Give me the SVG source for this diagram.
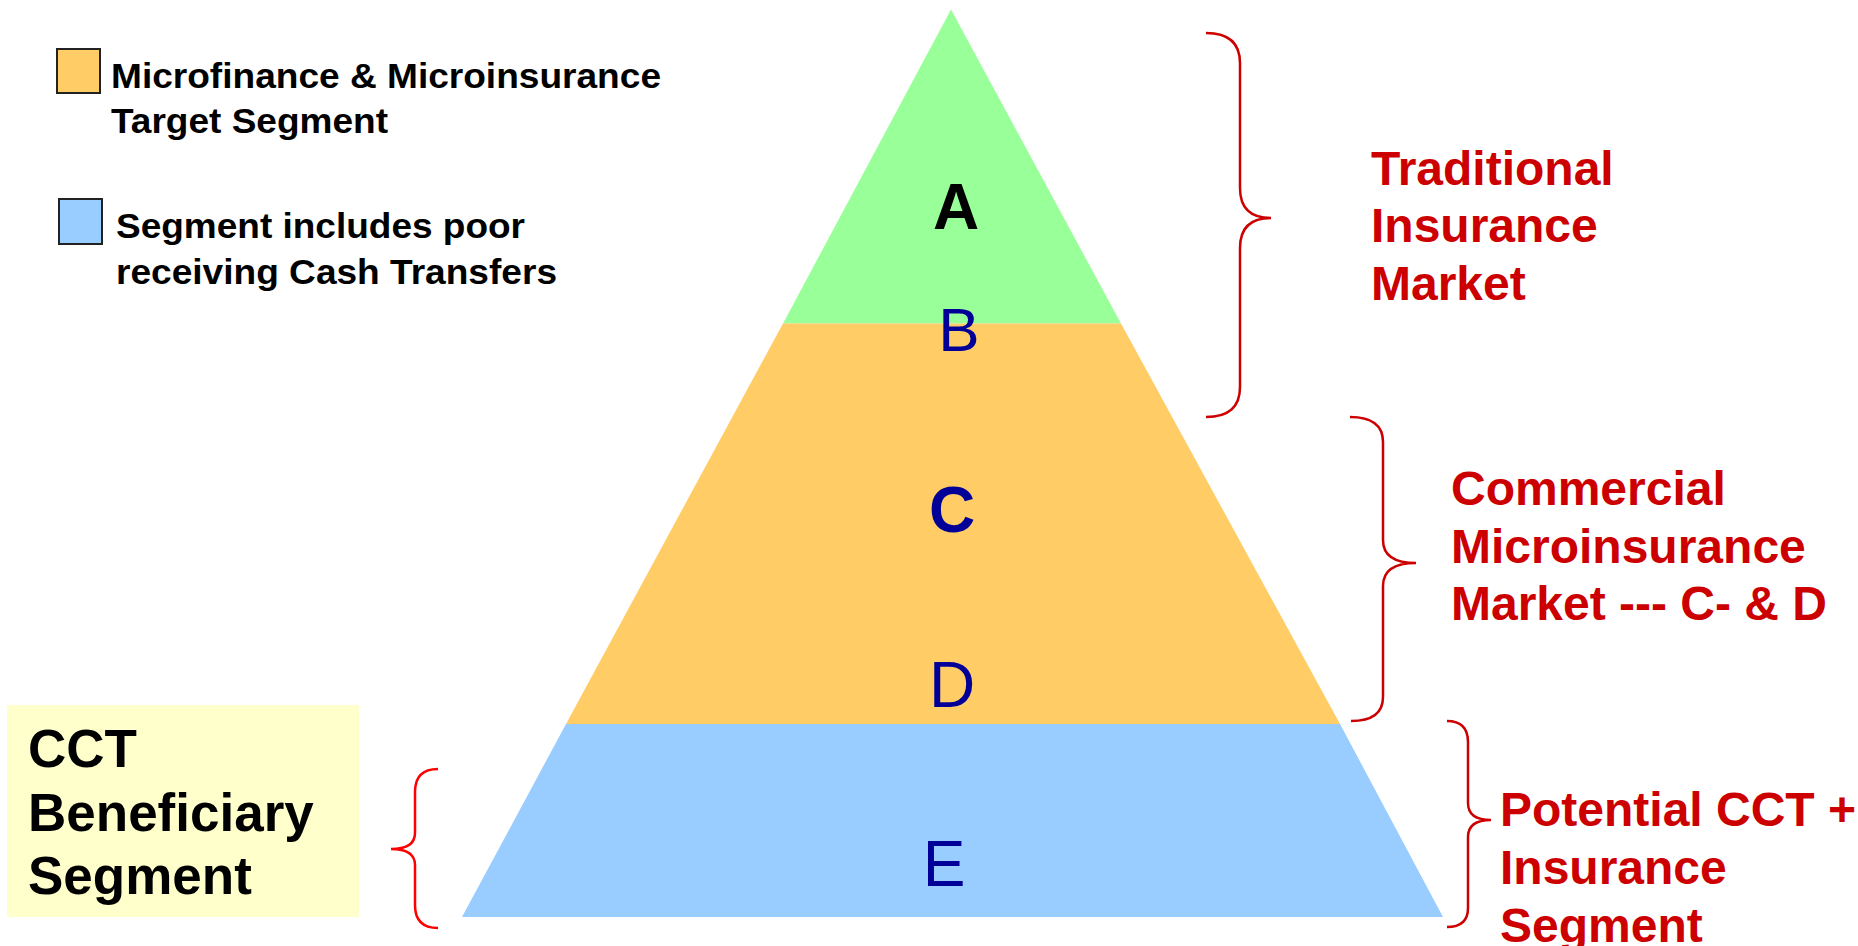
<svg xmlns="http://www.w3.org/2000/svg" width="1858" height="946" viewBox="0 0 1858 946">
<style>
.lg{font-family:"Liberation Sans",Arial,sans-serif;font-weight:bold;font-size:35px;fill:#000}
.red{font-family:"Liberation Sans",Arial,sans-serif;font-weight:bold;font-size:48px;fill:#CC0000}
.cct{font-family:"Liberation Sans",Arial,sans-serif;font-weight:bold;font-size:53px;fill:#000}
.let{font-family:"Liberation Sans",Arial,sans-serif;font-size:62px;fill:#000099;text-anchor:middle}
.br{fill:none;stroke:#CC0000;stroke-width:2.5}
.box{stroke:#222;stroke-width:2}
</style>
<rect width="1858" height="946" fill="#fff"/>
<g id="pyramid">
<polygon id="seg-green" points="951,9.5 1121,323.5 783,323.5" fill="#99FF99"/>
<polygon id="seg-orange" points="783,323.5 1121,323.5 1340,724 566,724" fill="#FFCC66"/>
<polygon id="seg-blue" points="566,724 1340,724 1443,917 462,917" fill="#99CCFF"/>
<text class="let" x="956" y="229" style="font-weight:bold;fill:#000;font-size:64px">A</text>
<text class="let" x="959" y="351">B</text>
<text class="let" x="952" y="532" style="font-weight:bold;font-size:64px">C</text>
<text class="let" x="952" y="707" style="font-size:64px">D</text>
<text class="let" x="944" y="886" style="font-size:64px">E</text>
</g>
<g id="legend-orange">
<rect class="box" x="57" y="49" width="43" height="44" fill="#FFCC66"/>
<text class="lg" x="111" y="88" textLength="550" lengthAdjust="spacingAndGlyphs">Microfinance &amp; Microinsurance</text>
<text class="lg" x="111" y="133" textLength="277" lengthAdjust="spacingAndGlyphs">Target Segment</text>
</g>
<g id="legend-blue">
<rect class="box" x="59" y="199" width="43" height="45" fill="#99CCFF"/>
<text class="lg" x="116" y="238" textLength="409" lengthAdjust="spacingAndGlyphs">Segment includes poor</text>
<text class="lg" x="116" y="284" textLength="441" lengthAdjust="spacingAndGlyphs">receiving Cash Transfers</text>
</g>
<g id="cct-box">
<rect x="7" y="705" width="352" height="212" fill="#FFFFCC"/>
<text class="cct" x="28" y="767">CCT</text>
<text class="cct" x="28" y="831">Beneficiary</text>
<text class="cct" x="28" y="894">Segment</text>
</g>
<g id="label-traditional">
<text class="red" x="1371" y="185">Traditional</text>
<text class="red" x="1371" y="242">Insurance</text>
<text class="red" x="1371" y="300">Market</text>
</g>
<g id="label-commercial">
<text class="red" x="1451" y="505">Commercial</text>
<text class="red" x="1451" y="563">Microinsurance</text>
<text class="red" x="1451" y="620">Market --- C- &amp; D</text>
</g>
<g id="label-potential">
<text class="red" x="1500" y="826">Potential CCT +</text>
<text class="red" x="1500" y="884">Insurance</text>
<text class="red" x="1500" y="942">Segment</text>
</g>
<g id="connectors">
<path class="br" d="M1206,33 Q1240,33 1240,63 L1240,188 Q1240,218 1271,218 Q1240,218 1240,248 L1240,387 Q1240,417 1206,417"/>
<path class="br" d="M1350,417 Q1383,417 1383,442 L1383,540 Q1383,563 1416,563 Q1383,563 1383,586 L1383,697 Q1383,721 1351,721"/>
<path class="br" d="M1447,721 Q1468,721 1468,742 L1468,803 Q1468,820 1491,820 Q1468,820 1468,837 L1468,908 Q1468,927 1447,927"/>
<path class="br" style="stroke:#FF0000" d="M438,769 Q415,769 415,792 L415,833 Q415,849 391,849 Q415,849 415,865 L415,905 Q415,928 438,928"/>
</g>
</svg>
